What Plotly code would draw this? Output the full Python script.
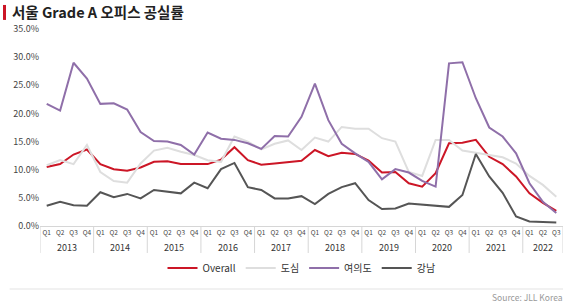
import plotly.graph_objects as go

years = ["2013", "2014", "2015", "2016", "2017", "2018", "2019", "2020", "2021", "2022"]
quarters = ["Q1", "Q2", "Q3", "Q4"]
year_quarter_counts = [4, 4, 4, 4, 4, 4, 4, 4, 4, 3]

overall = [10.5, 11.0, 12.7, 13.6, 11.0, 10.1, 9.8, 10.4, 11.4, 11.5, 11.0, 11.0,
           11.0, 11.8, 14.0, 11.7, 10.9, 11.1, 11.4, 11.6, 13.5, 12.4, 13.0, 12.8,
           11.6, 9.5, 9.6, 7.6, 7.0, 9.4, 14.7, 14.8, 15.3, 12.3, 11.0, 8.8,
           5.8, 4.1, 2.7]
dosim = [10.8, 11.7, 11.0, 14.4, 9.6, 8.0, 7.7, 11.1, 13.4, 13.9, 13.2, 12.6,
         11.7, 11.4, 15.9, 15.0, 13.6, 14.6, 15.2, 13.5, 15.7, 15.0, 17.6, 17.3,
         17.3, 15.6, 15.0, 9.6, 8.9, 15.3, 15.3, 13.4, 13.0, 12.6, 12.2, 11.1,
         8.9, 7.3, 5.2]
yeouido = [21.7, 20.5, 29.0, 26.2, 21.7, 21.8, 20.7, 16.7, 15.1, 15.0, 14.4, 12.7,
           16.6, 15.5, 15.3, 14.7, 13.7, 16.0, 15.9, 19.4, 25.3, 18.8, 14.6, 12.9,
           11.4, 8.3, 10.1, 9.5, 8.0, 7.0, 28.9, 29.1, 22.7, 17.5, 15.9, 12.9,
           7.6, 4.3, 2.3]
gangnam = [3.6, 4.3, 3.7, 3.6, 6.0, 5.1, 5.7, 4.9, 6.4, 6.1, 5.8, 7.7,
           6.7, 10.1, 11.2, 6.9, 6.4, 4.9, 4.9, 5.3, 3.9, 5.7, 6.9, 7.6,
           4.6, 3.0, 3.1, 4.0, 3.8, 3.6, 3.4, 5.5, 12.8, 8.8, 5.9, 1.7,
           0.8, 0.7, 0.6]

series_names = ["Overall", "도심", "여의도", "강남"]
series_values = [overall, dosim, yeouido, gangnam]
series_colors = ["#cc1626", "#dedede", "#8f6fa9", "#555555"]

tick_labels = []
for n in year_quarter_counts:
    tick_labels += quarters[:n]
xs = list(range(len(tick_labels)))

FONT = "Noto Sans CJK KR"
fig = go.Figure()
for name, vals, col in zip(series_names, series_values, series_colors):
    fig.add_trace(go.Scatter(x=xs, y=vals, mode="lines", name=name,
                             line=dict(color=col, width=2)))

shapes = []
annotations = []
start = 0
for y, n in zip(years, year_quarter_counts):
    annotations.append(dict(x=start + (n - 1) / 2, y=-0.107, xref="x", yref="paper",
                            text=y, showarrow=False, font=dict(size=9, color="#333"),
                            xanchor="center", yanchor="middle"))
    shapes.append(dict(type="line", xref="x", yref="paper", x0=start - 0.5, x1=start - 0.5,
                       y0=0, y1=-0.137, line=dict(color="#d6d6d6", width=1)))
    start += n
shapes.append(dict(type="line", xref="x", yref="paper", x0=start - 0.5, x1=start - 0.5,
                   y0=0, y1=-0.137, line=dict(color="#d6d6d6", width=1)))
# title accent bar
shapes.append(dict(type="rect", xref="paper", yref="paper", x0=-0.0707, x1=-0.065,
                   y0=1.046, y1=1.122, fillcolor="#cc1626", line=dict(width=0)))
# footer rule
shapes.append(dict(type="line", xref="paper", yref="paper", x0=-0.058, x1=1.0,
                   y0=-0.32, y1=-0.32, line=dict(color="#ececec", width=1.5)))

annotations.append(dict(x=1.004, y=-0.36, xref="paper", yref="paper", text="Source: JLL Korea",
                        showarrow=False, xanchor="right", yanchor="middle",
                        font=dict(size=8.5, color="#999")))

fig.update_layout(
    width=570, height=304,
    margin=dict(l=40, r=7, t=29, b=78),
    paper_bgcolor="white", plot_bgcolor="white",
    font=dict(family=FONT, color="#444"),
    title=dict(text="<b>서울 Grade A 오피스 공실률</b>", x=12 / 570, y=1 - 13 / 304,
               xanchor="left", yanchor="middle", xref="container", yref="container",
               font=dict(size=14.5, color="#222", family=FONT)),
    xaxis=dict(tickmode="array", tickvals=xs, ticktext=tick_labels, range=[-0.5, 38.5],
               showgrid=False, zeroline=False, showline=True, linecolor="#d6d6d6",
               tickfont=dict(size=6.5, color="#444"), ticks="", fixedrange=True),
    yaxis=dict(range=[0, 35], dtick=5, tickformat=".1f", ticksuffix="%", showgrid=False,
               zeroline=False, showline=False, tickfont=dict(size=9, color="#444"), ticks=""),
    legend=dict(orientation="h", x=0.5, xanchor="center", y=-0.213, yanchor="middle",
                font=dict(size=10, color="#333"), itemwidth=30, traceorder="normal"),
    shapes=shapes, annotations=annotations, showlegend=True,
)

fig.write_html("out.html")
